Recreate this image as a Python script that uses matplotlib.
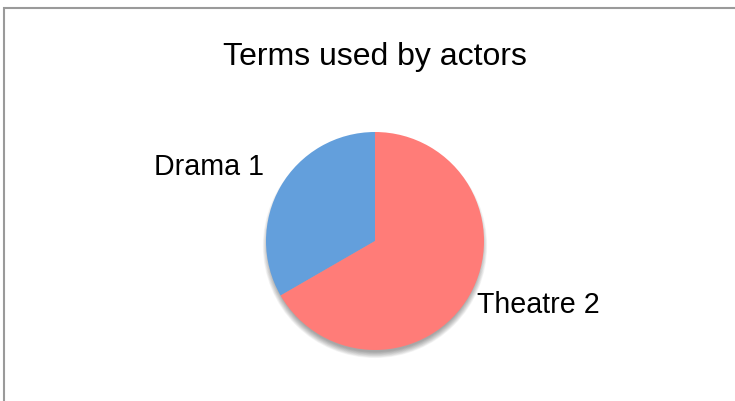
import matplotlib
matplotlib.use("Agg")
import matplotlib.pyplot as plt
from matplotlib.patches import Circle, Rectangle

categories = ["Drama", "Theatre"]
values = [1, 2]
colors = ["#639FDC", "#FF7C78"]
title = "Terms used by actors"

plt.rcParams['font.family'] = ['Liberation Sans', 'DejaVu Sans']

W, H = 735, 401
fig = plt.figure(figsize=(W / 100, H / 100), dpi=100)
fig.patch.set_facecolor("white")

# border
fig.patches.append(Rectangle((4 / W, -0.1), 1.2, 1.1 - 8 / H, transform=fig.transFigure,
                             fill=False, edgecolor="#9a9a9a", linewidth=1.5, zorder=0))

cx, cy, r = 375, 241, 109
ext = 1.3
ax = fig.add_axes([(cx - ext * r) / W, (H - cy - ext * r) / H, 2 * ext * r / W, 2 * ext * r / H])

# soft shadow
for i in range(10):
    ax.add_patch(Circle((0, -0.045), 0.975 + 0.006 * i, facecolor="#000000", alpha=0.04,
                        edgecolor="none", zorder=1))

wedges, _ = ax.pie(values, colors=colors, startangle=90, counterclock=True, radius=1.0,
                   wedgeprops=dict(edgecolor="none", zorder=2), frame=True)
ax.set_xlim(-ext, ext)
ax.set_ylim(-ext, ext)
ax.set_aspect("equal")
ax.axis("off")

labels = [f"{c} {v}" for c, v in zip(categories, values)]
ax.text(-1.018, 0.606, labels[0], ha="right", va="baseline", fontsize=20.6, color="black")
ax.text(0.936, -0.661, labels[1], ha="left", va="baseline", fontsize=20.6, color="black")

fig.text(374.5 / W, 1 - 65 / H, title, ha="center", va="baseline", fontsize=23, color="black")

fig.savefig("out.png", dpi=100)
